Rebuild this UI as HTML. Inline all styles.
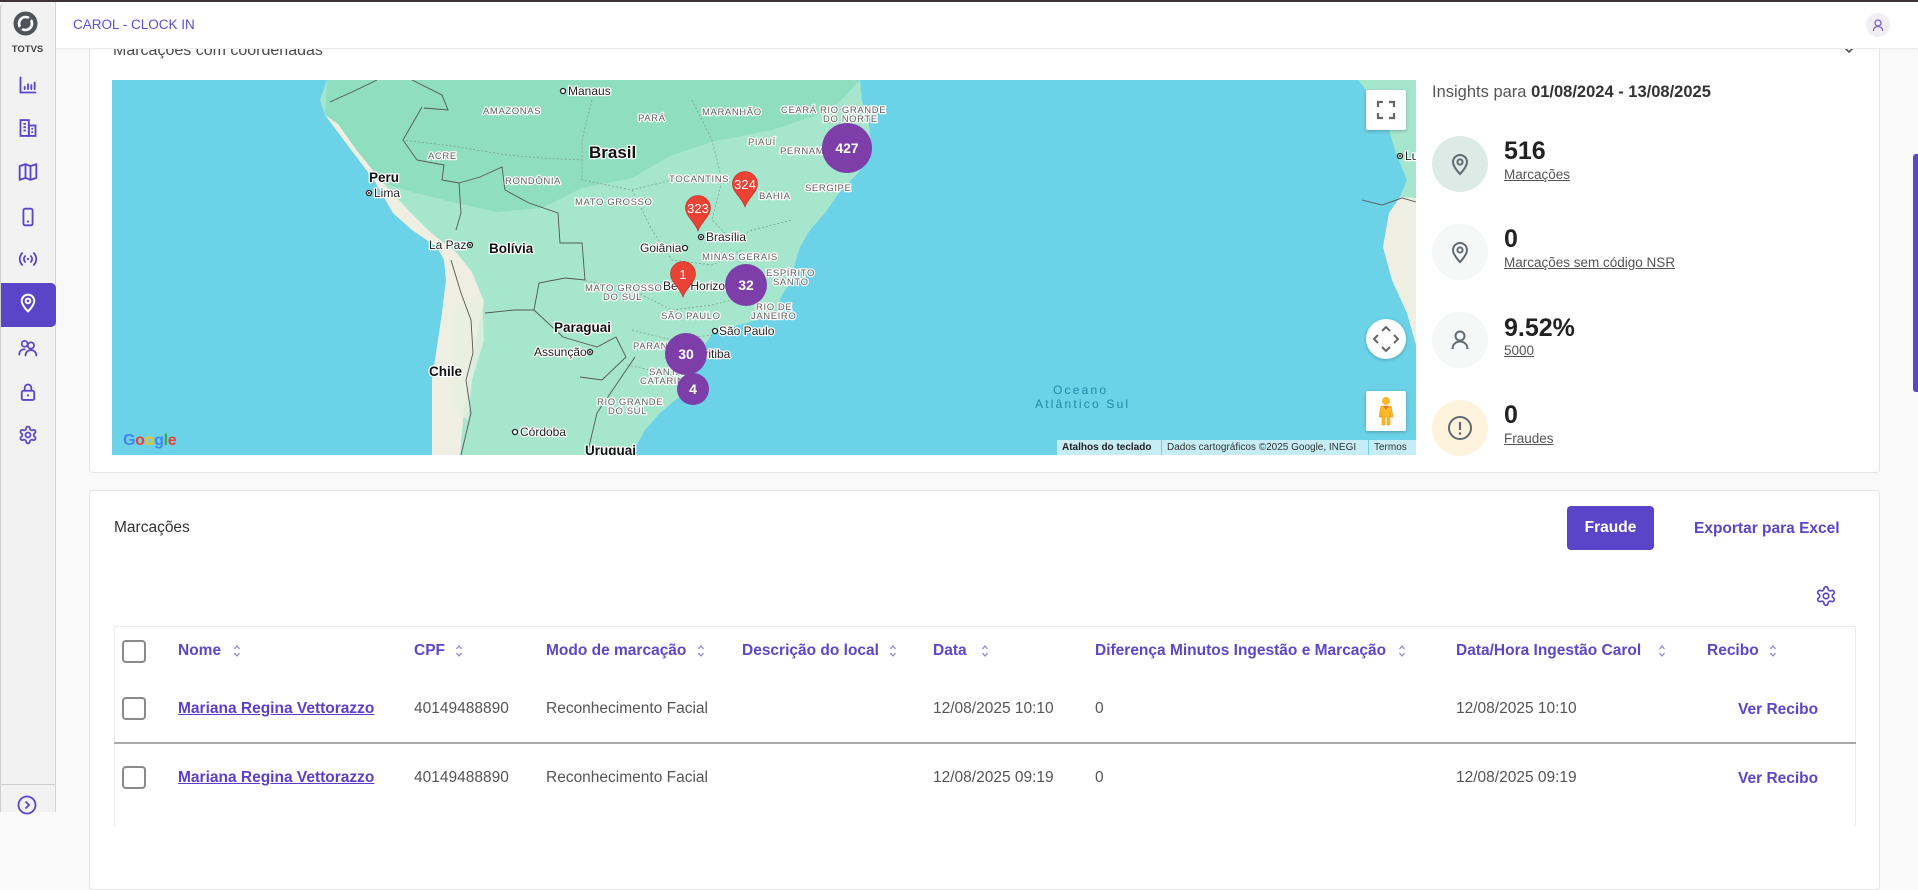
<!DOCTYPE html>
<html><head><meta charset="utf-8">
<style>
*{box-sizing:border-box}
body{margin:0;width:1918px;height:812px;overflow:hidden;background:#f9f9f9;position:relative;font-family:"Liberation Sans",sans-serif;}
.abs{position:absolute}
.card{position:absolute;background:#fff;border:1px solid #e6e6e6;border-radius:4px}
.th{position:absolute;top:641px;height:20px;line-height:20px;font-size:15.5px;font-weight:bold;color:#5a48c8;white-space:nowrap}
.td{position:absolute;height:20px;line-height:20px;font-size:15.5px;color:#555;white-space:nowrap}
.lnk{font-weight:bold;color:#5b3fcb;text-decoration:underline}
.vr{font-weight:bold;color:#5b45c9}
.cb{position:absolute;left:122px;width:24px;height:23px;border:2px solid #8a8a8a;border-radius:4px;background:#fff}
.sort{position:absolute;top:644px;width:8px;height:14px}
.ico{position:absolute;left:18px;width:20px;height:20px}
.num{position:absolute;left:1504px;font-size:25px;font-weight:bold;color:#222;height:28px;line-height:28px}
.lbl{position:absolute;left:1504px;font-size:13.5px;color:#555;text-decoration:underline;height:16px;line-height:16px}
.circ{position:absolute;left:1432px;width:56px;height:56px;border-radius:50%}
.ctrl{position:absolute;left:1254px;width:40px;height:40px;background:#fff;border-radius:2px;box-shadow:0 1px 3px rgba(0,0,0,.25)}
</style></head><body>

<!-- Card 1 (map card) -->
<div class="card" style="left:89px;top:20px;width:1791px;height:453px"></div>
<div class="abs" style="left:113px;top:41px;font-size:16px;line-height:20px;color:#4a4a4a">Marcações com coordenadas</div>
<svg class="abs" style="left:1842px;top:45px" width="14" height="10" viewBox="0 0 14 10"><polyline points="2,2 7,7 12,2" fill="none" stroke="#555" stroke-width="1.6"/></svg>

<!-- Map -->
<div class="abs" style="left:112px;top:80px;width:1304px;height:375px;overflow:hidden;background:#6bd2e7">
<svg width="1304" height="375" viewBox="0 0 1304 375" style="position:absolute;left:0;top:0">
  <path d="M215,0 L208,20 L213,35 L237,67 L262,100 L281,133 L300,150 L325,167 L332,180 L334,200 L330,233 L325,267 L320,300 L320,333 L320,375 L519,375 L533,350 L548,333 L567,317 L577,300 L582,283 L591,267 L601,253 L620,247 L645,240 L664,233 L669,217 L679,200 L683,183 L688,167 L698,150 L713,133 L727,113 L746,93 L760,72 L757,45 L750,20 L748,0 Z" fill="#a6e6cd"/>
  <path d="M215,0 L748,0 L720,30 L660,50 L600,62 L560,75 L520,98 L470,108 L430,128 L385,132 L340,122 L300,112 L262,100 L237,67 L213,35 Z" fill="#8fdebf"/>
  <path d="M213,35 L237,67 L262,100 L281,133 L300,150 L325,167 L332,180 L334,200 L330,233 L325,267 L320,300 L320,333 L320,375 L348,375 L352,330 L358,290 L366,250 L372,222 L360,192 L344,172 L318,152 L298,132 L272,104 L246,72 L226,44 Z" fill="#efeee2"/>
  <path d="M340,230 L370,215 L372,260 L360,300 L356,340 L340,330 Z" fill="#e9efe0" opacity=".8"/>
  <path d="M1246,0 L1262,20 L1277,50 L1284,73 L1295,100 L1288,117 L1277,133 L1271,167 L1280,200 L1295,233 L1304,265 L1304,0 Z" fill="#a6e6cd"/>
  <path d="M1288,117 L1277,133 L1271,167 L1280,200 L1295,233 L1304,265 L1304,118 Z" fill="#efeee2"/>
  <g fill="none" stroke="#555" stroke-width="0.9">
    <polyline points="310,27 291,60 305,80 332,85 330,100 347,103 349,133 344,150"/>
    <polyline points="347,103 368,97 390,87 393,110 417,123 446,133 448,163 470,163 473,200 453,198 427,203 422,230"/>
    <polyline points="339,180 349,213 359,240 361,273 354,300 359,333 349,375"/>
    <polyline points="373,233 402,230 422,230 451,257 485,267 504,257 514,277 490,300 468,297"/>
    <polyline points="523,277 485,333 475,375"/>
    <polyline points="218,22 240,12 265,0"/>
    <polyline points="300,0 330,15 336,30 312,28"/>
    <polyline points="1250,120 1270,125 1290,118 1304,122"/>
  </g>
  <g fill="none" stroke="#7a9a8e" stroke-width="0.7" stroke-dasharray="2,2">
    <polyline points="290,60 340,66 395,75 430,78 470,80"/>
    <polyline points="480,20 470,60 470,100 520,110 560,100"/>
    <polyline points="580,20 600,60 610,100 600,140 620,160 640,150 680,140"/>
    <polyline points="520,110 540,150 560,180 600,185 630,170"/>
    <polyline points="470,200 520,210 560,230 600,225 640,215"/>
    <polyline points="520,250 560,260 600,255"/>
    <polyline points="515,285 560,295 575,300"/>
  </g>
  <g font-family="Liberation Sans, sans-serif" paint-order="stroke" stroke="#fff" stroke-width="2.5" stroke-linejoin="round">
    <g font-size="9.5" fill="#5f5f5f" letter-spacing="0.6">
      <text x="371" y="34">AMAZONAS</text>
      <text x="526" y="41">PARÁ</text>
      <text x="590" y="35">MARANHÃO</text>
      <text x="669" y="33">CEARÁ RIO GRANDE</text>
      <text x="711" y="42">DO NORTE</text>
      <text x="636" y="65">PIAUÍ</text>
      <text x="668" y="74">PERNAMBUCO</text>
      <text x="316" y="79">ACRE</text>
      <text x="393" y="104">RONDÔNIA</text>
      <text x="557" y="102">TOCANTINS</text>
      <text x="647" y="119">BAHIA</text>
      <text x="693" y="111">SERGIPE</text>
      <text x="463" y="125">MATO GROSSO</text>
      <text x="590" y="180">MINAS GERAIS</text>
      <text x="654" y="196">ESPÍRITO</text>
      <text x="661" y="205">SANTO</text>
      <text x="473" y="211">MATO GROSSO</text>
      <text x="491" y="220">DO SUL</text>
      <text x="549" y="239">SÃO PAULO</text>
      <text x="644" y="230">RIO DE</text>
      <text x="639" y="239">JANEIRO</text>
      <text x="521" y="269">PARANÁ</text>
      <text x="537" y="295">SANTA</text>
      <text x="528" y="304">CATARINA</text>
      <text x="485" y="325">RIO GRANDE</text>
      <text x="496" y="334">DO SUL</text>
    </g>
    <g font-size="12" fill="#222">
      <text x="456" y="15">Manaus</text>
      <text x="262" y="117">Lima</text>
      <text x="594" y="161">Brasília</text>
      <text x="528" y="172">Goiânia</text>
      <text x="317" y="169">La Paz</text>
      <text x="551" y="210">Belo Horizonte</text>
      <text x="607" y="255">São Paulo</text>
      <text x="577" y="278">Curitiba</text>
      <text x="422" y="276">Assunção</text>
      <text x="408" y="356">Córdoba</text>
      <text x="1293" y="80">Luanda</text>
    </g>
    <g font-size="13.5" font-weight="bold" fill="#111">
      <text x="257" y="102">Peru</text>
      <text x="377" y="173">Bolívia</text>
      <text x="442" y="252">Paraguai</text>
      <text x="317" y="296">Chile</text>
      <text x="473" y="375">Uruguai</text>
    </g>
    <text x="477" y="78" font-size="17" font-weight="bold" fill="#111">Brasil</text>
  </g>
  <g fill="#fff" stroke="#222" stroke-width="1.3">
    <circle cx="451" cy="11" r="2.5"/>
    <circle cx="257" cy="113" r="2.5"/>
    <circle cx="589" cy="157" r="2.5"/>
    <circle cx="573" cy="168" r="2.5"/>
    <circle cx="358" cy="165" r="2.5"/>
    <circle cx="603" cy="251" r="2.5"/>
    <circle cx="478" cy="272" r="2.5"/>
    <circle cx="403" cy="352" r="2.5"/>
    <circle cx="1288" cy="76" r="2.5"/>
  </g>
  <g fill="#222"><circle cx="257" cy="113" r="1"/><circle cx="589" cy="157" r="1"/><circle cx="358" cy="165" r="1"/><circle cx="478" cy="272" r="1"/><circle cx="1288" cy="76" r="1"/></g>
  <g font-family="Liberation Sans, sans-serif" font-size="12" fill="#1f8ba6" letter-spacing="2.2">
    <text x="941" y="314">Oceano</text>
    <text x="923" y="328">Atlântico Sul</text>
  </g>
  <!-- markers -->
  <g font-family="Liberation Sans, sans-serif" font-weight="bold" fill="#fff" text-anchor="middle">
    <circle cx="735" cy="68" r="25" fill="#7e3ea9"/><text x="735" y="73" font-size="14">427</text>
    <circle cx="634" cy="205" r="21" fill="#7e3ea9"/><text x="634" y="210" font-size="14">32</text>
    <circle cx="581" cy="309" r="16" fill="#7e3ea9"/><text x="581" y="314" font-size="14">4</text>
    <circle cx="574" cy="274" r="21" fill="#7e3ea9"/><text x="574" y="279" font-size="14">30</text>
  </g>
  <g font-family="Liberation Sans, sans-serif" fill="#fff" text-anchor="middle">
    <path d="M633,127 C630,118 620.5,112 620.5,104 A12.5,12.5 0 1 1 645.5,104 C645.5,112 636,118 633,127 Z" fill="#ea4335" stroke="#c5221f" stroke-width="0.6"/>
    <text x="633" y="109" font-size="13">324</text>
    <path d="M586,151 C583,142 573.5,136 573.5,128 A12.5,12.5 0 1 1 598.5,128 C598.5,136 589,142 586,151 Z" fill="#ea4335" stroke="#c5221f" stroke-width="0.6"/>
    <text x="586" y="133" font-size="13">323</text>
    <path d="M571,217 C568,208 558.5,202 558.5,194 A12.5,12.5 0 1 1 583.5,194 C583.5,202 574,208 571,217 Z" fill="#ea4335" stroke="#c5221f" stroke-width="0.6"/>
    <text x="571" y="199" font-size="13">1</text>
  </g>
</svg>
  <div class="abs" style="left:11px;top:351px;font-size:16px;font-weight:bold;letter-spacing:-0.3px;line-height:20px"><span style="color:#4285f4">G</span><span style="color:#ea4335">o</span><span style="color:#fbbc05">o</span><span style="color:#4285f4">g</span><span style="color:#34a853">l</span><span style="color:#ea4335">e</span></div>
  <div class="ctrl" style="top:10px"><svg width="40" height="40" viewBox="0 0 40 40"><g fill="none" stroke="#666" stroke-width="2.2"><polyline points="12,17 12,12 17,12"/><polyline points="23,12 28,12 28,17"/><polyline points="12,23 12,28 17,28"/><polyline points="28,23 28,28 23,28"/></g></svg></div>
  <div class="ctrl" style="top:239px;border-radius:50%"><svg width="40" height="40" viewBox="0 0 40 40"><g fill="none" stroke="#666" stroke-width="2"><polyline points="16,12 20,8 24,12"/><polyline points="16,28 20,32 24,28"/><polyline points="12,16 8,20 12,24"/><polyline points="28,16 32,20 28,24"/></g></svg></div>
  <div class="ctrl" style="top:311px"><svg width="40" height="40" viewBox="0 0 40 40"><circle cx="20" cy="10" r="4" fill="#fdb92c"/><path d="M15,15 h10 l2,11 h-2.5 l-0.5,-5 v13 h-3 v-8 h-2 v8 h-3 v-13 l-0.5,5 h-2.5 z" fill="#fdb92c" stroke="#e79b12" stroke-width="0.6"/><path d="M17,15 L20,19 L23,15" fill="#f07b24"/></svg></div>
  <div class="abs" style="left:945px;top:360px;width:359px;height:15px;font-size:10px;line-height:15px;color:#333;white-space:nowrap">
    <span class="abs" style="left:0;width:104px;height:15px;background:#c6edf5;padding-left:5px;font-weight:bold;color:#222">Atalhos do teclado</span>
    <span class="abs" style="left:105px;width:206px;height:15px;background:#c6edf5;padding-left:5px">Dados cartográficos ©2025 Google, INEGI</span>
    <span class="abs" style="left:312px;width:47px;height:15px;background:#c6edf5;padding-left:5px">Termos</span>
  </div>
</div>

<!-- Insights -->
<div class="abs" style="left:1432px;top:82px;font-size:16.5px;line-height:20px;color:#555;white-space:nowrap">Insights para <b style="color:#333">01/08/2024 - 13/08/2025</b></div>

<div class="circ" style="top:136px;background:#dcebe6"></div>
<div class="circ" style="top:224px;background:#f6f8f8"></div>
<div class="circ" style="top:312px;background:#f6f8f8"></div>
<div class="circ" style="top:400px;background:#fef3dc"></div>
<svg class="abs" style="left:1448px;top:152px" width="24" height="24" viewBox="0 0 24 24"><path d="M12 22s-7-7-7-12a7 7 0 0 1 14 0c0 5-7 12-7 12z" fill="none" stroke="#5f6a72" stroke-width="2"/><circle cx="12" cy="10" r="2.6" fill="none" stroke="#5f6a72" stroke-width="2"/></svg>
<svg class="abs" style="left:1448px;top:240px" width="24" height="24" viewBox="0 0 24 24"><path d="M12 22s-7-7-7-12a7 7 0 0 1 14 0c0 5-7 12-7 12z" fill="none" stroke="#5f6a72" stroke-width="2"/><circle cx="12" cy="10" r="2.6" fill="none" stroke="#5f6a72" stroke-width="2"/></svg>
<svg class="abs" style="left:1448px;top:328px" width="24" height="24" viewBox="0 0 24 24"><circle cx="12" cy="8" r="4.5" fill="none" stroke="#5f6a72" stroke-width="2"/><path d="M4.5 21c0-4.5 3.4-7.5 7.5-7.5s7.5 3 7.5 7.5" fill="none" stroke="#5f6a72" stroke-width="2"/></svg>
<svg class="abs" style="left:1446px;top:414px" width="28" height="28" viewBox="0 0 28 28"><circle cx="14" cy="14" r="11" fill="none" stroke="#5f6a72" stroke-width="2"/><line x1="14" y1="8" x2="14" y2="16" stroke="#5f6a72" stroke-width="2.2"/><circle cx="14" cy="19.5" r="1.3" fill="#5f6a72"/></svg>

<div class="num" style="top:137px">516</div>
<div class="lbl" style="top:167px">Marcações</div>
<div class="num" style="top:225px">0</div>
<div class="lbl" style="top:255px">Marcações sem código NSR</div>
<div class="num" style="top:314px">9.52%</div>
<div class="lbl" style="top:343px">5000</div>
<div class="num" style="top:401px">0</div>
<div class="lbl" style="top:431px">Fraudes</div>

<!-- Card 2 -->
<div class="card" style="left:89px;top:490px;width:1791px;height:400px"></div>
<div class="abs" style="left:114px;top:518px;font-size:15.5px;line-height:20px;color:#333">Marcações</div>
<div class="abs" style="left:1567px;top:506px;width:87px;height:44px;background:#5a45c9;border-radius:4px;color:#fff;font-weight:bold;font-size:15.5px;line-height:44px;text-align:center">Fraude</div>
<div class="abs" style="left:1694px;top:519px;font-size:15.5px;line-height:20px;font-weight:bold;color:#5b45c9;white-space:nowrap">Exportar para Excel</div>
<svg class="abs" style="left:1815px;top:585px" width="22" height="22" viewBox="0 0 24 24"><path d="M12.22 2h-.44a2 2 0 0 0-2 2v.18a2 2 0 0 1-1 1.73l-.43.25a2 2 0 0 1-2 0l-.15-.08a2 2 0 0 0-2.73.73l-.22.38a2 2 0 0 0 .73 2.73l.15.1a2 2 0 0 1 1 1.72v.51a2 2 0 0 1-1 1.74l-.15.09a2 2 0 0 0-.73 2.730l.22.38a2 2 0 0 0 2.73.73l.15-.08a2 2 0 0 1 2 0l.43.25a2 2 0 0 1 1 1.73V20a2 2 0 0 0 2 2h.44a2 2 0 0 0 2-2v-.18a2 2 0 0 1 1-1.73l.43-.25a2 2 0 0 1 2 0l.15.08a2 2 0 0 0 2.73-.73l.22-.39a2 2 0 0 0-.73-2.73l-.15-.08a2 2 0 0 1-1-1.74v-.5a2 2 0 0 1 1-1.74l.15-.09a2 2 0 0 0 .73-2.73l-.22-.38a2 2 0 0 0-2.73-.73l-.15.08a2 2 0 0 1-2 0l-.43-.25a2 2 0 0 1-1-1.73V4a2 2 0 0 0-2-2z" fill="none" stroke="#5b45c9" stroke-width="1.8"/><circle cx="12" cy="12" r="3" fill="none" stroke="#5b45c9" stroke-width="1.8"/></svg>

<!-- table -->
<div class="abs" style="left:114px;top:626px;width:1742px;height:200px;border:1px solid #ebebeb;border-bottom:none"></div>
<div class="abs" style="left:114px;top:742px;width:1742px;height:2px;background:#a9a9a9"></div>

<div class="cb" style="top:640px"></div>
<div class="cb" style="top:697px"></div>
<div class="cb" style="top:766px"></div>

<div class="th" style="left:178px">Nome</div>
<div class="th" style="left:414px">CPF</div>
<div class="th" style="left:546px">Modo de marcação</div>
<div class="th" style="left:742px">Descrição do local</div>
<div class="th" style="left:933px">Data</div>
<div class="th" style="left:1095px">Diferença Minutos Ingestão e Marcação</div>
<div class="th" style="left:1456px">Data/Hora Ingestão Carol</div>
<div class="th" style="left:1707px">Recibo</div>

<svg class="sort" style="left:233px" viewBox="0 0 8 14"><g fill="none" stroke="#8a7fd4" stroke-width="1.2"><polyline points="1.5,5 4,2 6.5,5"/><polyline points="1.5,9 4,12 6.5,9"/></g></svg>
<svg class="sort" style="left:455px" viewBox="0 0 8 14"><g fill="none" stroke="#8a7fd4" stroke-width="1.2"><polyline points="1.5,5 4,2 6.5,5"/><polyline points="1.5,9 4,12 6.5,9"/></g></svg>
<svg class="sort" style="left:697px" viewBox="0 0 8 14"><g fill="none" stroke="#8a7fd4" stroke-width="1.2"><polyline points="1.5,5 4,2 6.5,5"/><polyline points="1.5,9 4,12 6.5,9"/></g></svg>
<svg class="sort" style="left:889px" viewBox="0 0 8 14"><g fill="none" stroke="#8a7fd4" stroke-width="1.2"><polyline points="1.5,5 4,2 6.5,5"/><polyline points="1.5,9 4,12 6.5,9"/></g></svg>
<svg class="sort" style="left:981px" viewBox="0 0 8 14"><g fill="none" stroke="#8a7fd4" stroke-width="1.2"><polyline points="1.5,5 4,2 6.5,5"/><polyline points="1.5,9 4,12 6.5,9"/></g></svg>
<svg class="sort" style="left:1398px" viewBox="0 0 8 14"><g fill="none" stroke="#8a7fd4" stroke-width="1.2"><polyline points="1.5,5 4,2 6.5,5"/><polyline points="1.5,9 4,12 6.5,9"/></g></svg>
<svg class="sort" style="left:1658px" viewBox="0 0 8 14"><g fill="none" stroke="#8a7fd4" stroke-width="1.2"><polyline points="1.5,5 4,2 6.5,5"/><polyline points="1.5,9 4,12 6.5,9"/></g></svg>
<svg class="sort" style="left:1769px" viewBox="0 0 8 14"><g fill="none" stroke="#8a7fd4" stroke-width="1.2"><polyline points="1.5,5 4,2 6.5,5"/><polyline points="1.5,9 4,12 6.5,9"/></g></svg>

<div class="td lnk" style="left:178px;top:699px">Mariana Regina Vettorazzo</div>
<div class="td" style="left:414px;top:699px">40149488890</div>
<div class="td" style="left:546px;top:699px">Reconhecimento Facial</div>
<div class="td" style="left:933px;top:699px">12/08/2025 10:10</div>
<div class="td" style="left:1095px;top:699px">0</div>
<div class="td" style="left:1456px;top:699px">12/08/2025 10:10</div>
<div class="td vr" style="left:1738px;top:700px">Ver Recibo</div>

<div class="td lnk" style="left:178px;top:768px">Mariana Regina Vettorazzo</div>
<div class="td" style="left:414px;top:768px">40149488890</div>
<div class="td" style="left:546px;top:768px">Reconhecimento Facial</div>
<div class="td" style="left:933px;top:768px">12/08/2025 09:19</div>
<div class="td" style="left:1095px;top:768px">0</div>
<div class="td" style="left:1456px;top:768px">12/08/2025 09:19</div>
<div class="td vr" style="left:1738px;top:769px">Ver Recibo</div>

<!-- Header -->
<div class="abs" style="left:55px;top:0;width:1863px;height:49px;background:#fff;border-bottom:1px solid #ececec;box-shadow:0 1px 2px rgba(0,0,0,.04)"></div>
<div class="abs" style="left:73px;top:15px;font-size:13.5px;line-height:20px;color:#5a4fd6;white-space:nowrap">CAROL - CLOCK IN</div>
<div class="abs" style="left:1866px;top:13px;width:24px;height:24px;border-radius:50%;background:#f0f0f4"></div>
<svg class="abs" style="left:1871px;top:18px" width="14" height="14" viewBox="0 0 14 14"><circle cx="7" cy="5" r="3" fill="none" stroke="#7b5ce0" stroke-width="1.3"/><path d="M2.5 13c0-3 2-4.5 4.5-4.5s4.5 1.5 4.5 4.5" fill="none" stroke="#7b5ce0" stroke-width="1.3"/></svg>

<!-- top bar -->
<div class="abs" style="left:0;top:0;width:1918px;height:2px;background:#3d3438"></div>

<!-- Sidebar -->
<div class="abs" style="left:0;top:2px;width:56px;height:810px;background:#f2f2f2;border-left:1px solid #cfcfcf;border-right:1px solid #d4d4d4;border-top-left-radius:6px"></div>
<svg class="abs" style="left:13px;top:11px" width="25" height="25" viewBox="0 0 25 25"><circle cx="12.5" cy="12.5" r="12" fill="#4d555b"/><circle cx="12.5" cy="12.5" r="6.5" fill="none" stroke="#fff" stroke-width="2.6"/><line x1="7" y1="18" x2="18" y2="7" stroke="#4d555b" stroke-width="3"/></svg>
<div class="abs" style="left:0;top:44px;width:55px;text-align:center;font-size:9.5px;font-weight:bold;color:#444;line-height:12px">TOTVS</div>

<svg class="ico" style="top:75px" viewBox="0 0 24 24"><g fill="none" stroke="#5b45c9" stroke-width="2.2" stroke-linecap="round"><path d="M3 3v18h18"/><path d="M8 17v-3M12 17v-6M16 17v-5M20 17v-8"/></g></svg>
<svg class="ico" style="top:118px" viewBox="0 0 24 24"><g fill="none" stroke="#5b45c9" stroke-width="2.2"><rect x="3" y="2.5" width="10" height="19"/><rect x="13" y="9" width="8" height="12.5"/><path d="M6.5 7h3M6.5 11h3M6.5 15h3M16 13h2M16 17h2"/></g></svg>
<svg class="ico" style="top:162px" viewBox="0 0 24 24"><g fill="none" stroke="#5b45c9" stroke-width="2.2" stroke-linejoin="round"><path d="M2 5l7-2.5 6 2.5 7-2.5v16.5l-7 2.5-6-2.5-7 2.5z"/><path d="M9 2.5v16.5M15 5v16.5"/></g></svg>
<svg class="ico" style="top:207px" viewBox="0 0 24 24"><g fill="none" stroke="#5b45c9" stroke-width="2.2"><rect x="6.5" y="2" width="11" height="20" rx="2"/></g><circle cx="12" cy="17.5" r="1.3" fill="#5b45c9"/></svg>
<svg class="ico" style="top:249px" viewBox="0 0 24 24"><g fill="none" stroke="#5b45c9" stroke-width="2.2" stroke-linecap="round"><path d="M5 5a10 10 0 0 0 0 14M19 5a10 10 0 0 1 0 14M8.5 8.5a5 5 0 0 0 0 7M15.5 8.5a5 5 0 0 1 0 7"/></g><circle cx="12" cy="12" r="1.4" fill="#5b45c9"/></svg>
<div class="abs" style="left:1px;top:283px;width:55px;height:44px;background:#5a45c9;border-radius:0 5px 5px 0"></div>
<svg class="ico" style="top:293px" viewBox="0 0 24 24"><path d="M12 22s-7.5-7-7.5-12.5a7.5 7.5 0 0 1 15 0C19.5 15 12 22 12 22z" fill="none" stroke="#fff" stroke-width="2.4"/><circle cx="12" cy="9.5" r="2.8" fill="none" stroke="#fff" stroke-width="2.4"/></svg>
<svg class="ico" style="top:338px" viewBox="0 0 24 24"><g fill="none" stroke="#5b45c9" stroke-width="2.1" stroke-linecap="round"><circle cx="8" cy="7" r="3.5"/><path d="M1.5 20c0-4 2.5-6.5 6.5-6.5"/><circle cx="15.5" cy="9" r="3.8"/><path d="M9 21c0-4 3-6.5 6.5-6.5s6.5 2.5 6.5 6.5"/></g></svg>
<svg class="ico" style="top:382px" viewBox="0 0 24 24"><g fill="none" stroke="#5b45c9" stroke-width="2.2"><rect x="4.5" y="10.5" width="15" height="11" rx="2"/><path d="M8 10.5V7a4 4 0 0 1 8 0v3.5"/></g><circle cx="12" cy="16" r="1.3" fill="#5b45c9"/></svg>
<svg class="ico" style="top:425px" viewBox="0 0 24 24"><path d="M12.22 2h-.44a2 2 0 0 0-2 2v.18a2 2 0 0 1-1 1.73l-.43.25a2 2 0 0 1-2 0l-.15-.08a2 2 0 0 0-2.73.73l-.22.38a2 2 0 0 0 .73 2.73l.15.1a2 2 0 0 1 1 1.72v.51a2 2 0 0 1-1 1.74l-.15.09a2 2 0 0 0-.73 2.73l.22.38a2 2 0 0 0 2.73.73l.15-.08a2 2 0 0 1 2 0l.43.25a2 2 0 0 1 1 1.73V20a2 2 0 0 0 2 2h.44a2 2 0 0 0 2-2v-.18a2 2 0 0 1 1-1.73l.43-.25a2 2 0 0 1 2 0l.15.08a2 2 0 0 0 2.73-.73l.22-.39a2 2 0 0 0-.73-2.73l-.15-.08a2 2 0 0 1-1-1.74v-.5a2 2 0 0 1 1-1.74l.15-.09a2 2 0 0 0 .73-2.73l-.22-.38a2 2 0 0 0-2.73-.73l-.15.08a2 2 0 0 1-2 0l-.43-.25a2 2 0 0 1-1-1.73V4a2 2 0 0 0-2-2z" fill="none" stroke="#5b45c9" stroke-width="2.1"/><circle cx="12" cy="12" r="3" fill="none" stroke="#5b45c9" stroke-width="2.1"/></svg>

<div class="abs" style="left:1px;top:784px;width:54px;height:1px;background:#cfcfcf"></div>
<svg class="abs" style="left:17px;top:795px" width="20" height="20" viewBox="0 0 20 20"><circle cx="10" cy="10" r="8.5" fill="none" stroke="#5b45c9" stroke-width="1.8"/><polyline points="8.5,6.5 12,10 8.5,13.5" fill="none" stroke="#5b45c9" stroke-width="1.8"/></svg>

<!-- scrollbar thumb -->
<div class="abs" style="left:1913px;top:154px;width:5px;height:238px;background:#5b45c9;border-radius:3px 0 0 3px"></div>

</body></html>
